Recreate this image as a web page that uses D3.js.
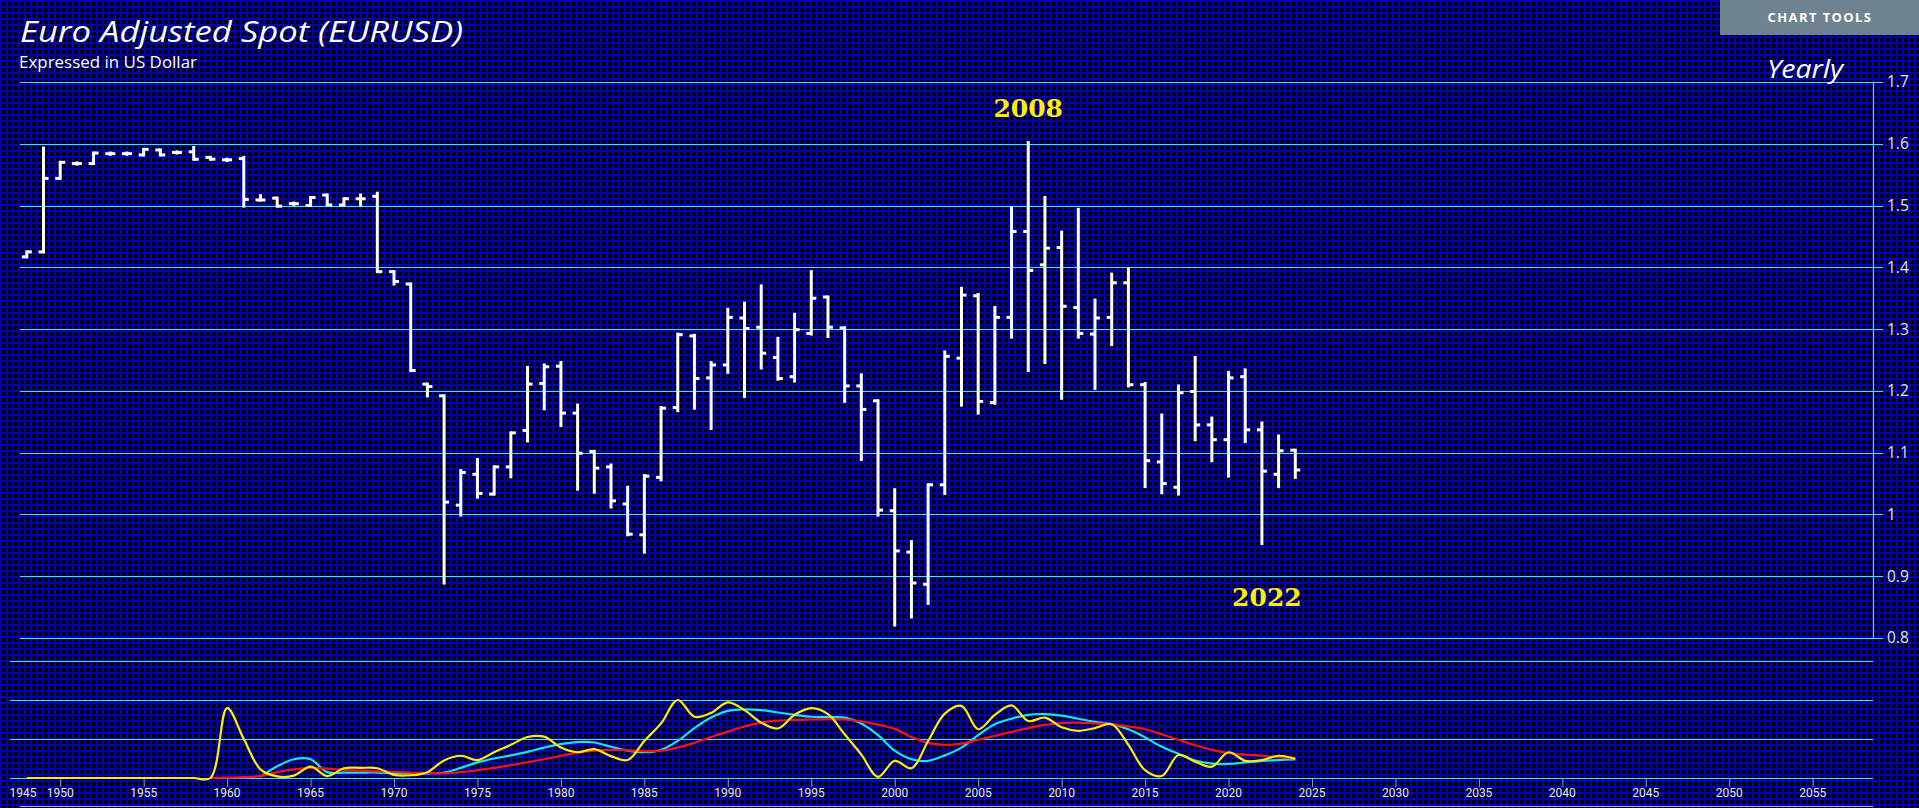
<!DOCTYPE html>
<html>
<head>
<meta charset="utf-8">
<script src="https://cdn.jsdelivr.net/npm/d3@7"></script>
<style>
html,body{margin:0;padding:0;background:#000;overflow:hidden;}
svg{display:block;}
</style>
</head>
<body>
<svg id="chart" width="1919" height="808"></svg>
<script>
// ---------- DATA ----------
const firstYear = 1948;
const openV  = [1.417,1.425,1.544,1.568,1.568,1.584,1.584,1.582,1.590,1.586,1.587,1.578,1.574,1.576,1.509,1.512,1.503,1.500,1.517,1.501,1.511,1.515,1.393,1.373,1.211,1.192,1.015,1.065,1.033,1.077,1.136,1.212,1.240,1.164,1.102,1.077,1.017,0.967,1.060,1.173,1.289,1.221,1.242,1.318,1.303,1.254,1.223,1.293,1.352,1.302,1.208,1.184,1.006,0.939,0.887,1.048,1.253,1.354,1.181,1.319,1.458,1.404,1.432,1.335,1.292,1.319,1.375,1.210,1.085,1.044,1.199,1.145,1.121,1.223,1.137,1.065,1.104];
const highV  = [1.425,1.593,1.570,1.569,1.585,1.585,1.585,1.591,1.590,1.587,1.594,1.578,1.575,1.578,1.516,1.512,1.504,1.513,1.517,1.511,1.517,1.520,1.393,1.373,1.211,1.192,1.071,1.089,1.077,1.132,1.238,1.242,1.246,1.177,1.102,1.080,1.044,1.063,1.173,1.292,1.290,1.246,1.332,1.342,1.370,1.285,1.324,1.393,1.352,1.302,1.226,1.184,1.040,0.956,1.048,1.263,1.366,1.356,1.335,1.496,1.602,1.513,1.457,1.494,1.347,1.389,1.398,1.212,1.161,1.208,1.254,1.156,1.230,1.234,1.148,1.127,1.104];
const lowV   = [1.417,1.425,1.544,1.567,1.568,1.583,1.583,1.582,1.582,1.585,1.575,1.575,1.573,1.499,1.509,1.499,1.502,1.500,1.501,1.501,1.500,1.393,1.373,1.233,1.192,0.889,0.999,1.028,1.033,1.061,1.119,1.171,1.144,1.041,1.036,1.012,0.967,0.939,1.056,1.168,1.172,1.139,1.230,1.191,1.237,1.219,1.216,1.292,1.288,1.183,1.089,0.999,0.821,0.834,0.856,1.034,1.177,1.164,1.180,1.287,1.233,1.246,1.188,1.287,1.204,1.275,1.208,1.045,1.035,1.033,1.121,1.087,1.062,1.118,0.953,1.045,1.060];
const closeV = [1.425,1.544,1.570,1.568,1.585,1.584,1.584,1.591,1.582,1.586,1.575,1.575,1.574,1.510,1.509,1.499,1.503,1.513,1.501,1.511,1.511,1.393,1.377,1.233,1.207,1.020,1.068,1.034,1.077,1.132,1.211,1.239,1.164,1.099,1.075,1.022,0.968,1.062,1.172,1.291,1.220,1.242,1.319,1.301,1.261,1.220,1.299,1.350,1.303,1.208,1.170,1.007,0.941,0.889,1.048,1.256,1.355,1.183,1.319,1.458,1.395,1.431,1.337,1.293,1.318,1.375,1.210,1.087,1.050,1.197,1.145,1.121,1.221,1.137,1.070,1.103,1.072];

// lower indicator panel
const yellowStart = 1948;
const yellowV = [0,0,0,0,0,0,0,0,0,0,0,0,1.79,1.0,0.22,0.04,0.06,0.29,0.05,0.25,0.26,0.25,0.08,0.07,0.15,0.45,0.57,0.46,0.66,0.85,1.05,1.06,0.78,0.66,0.74,0.56,0.46,0.95,1.40,2.0,1.57,1.67,1.94,1.74,1.42,1.27,1.62,1.79,1.64,1.12,0.6,0.03,0.44,0.25,0.95,1.65,1.85,1.25,1.62,1.86,1.46,1.55,1.30,1.21,1.28,1.38,0.85,0.2,0.05,0.59,0.42,0.29,0.66,0.44,0.46,0.57,0.49];
const cyanStart = 1962;
const cyanV = [0.03,0.30,0.48,0.48,0.15,0.14,0.14,0.14,0.13,0.12,0.12,0.14,0.26,0.40,0.50,0.58,0.67,0.78,0.87,0.92,0.91,0.80,0.70,0.66,0.72,0.95,1.28,1.55,1.72,1.76,1.74,1.68,1.62,1.57,1.56,1.55,1.40,1.10,0.70,0.48,0.44,0.58,0.78,1.10,1.38,1.52,1.62,1.64,1.60,1.52,1.44,1.38,1.25,1.04,0.80,0.62,0.45,0.37,0.36,0.40,0.44,0.46,0.48];
const redStart = 1959;
const redV = [0,0.01,0.02,0.05,0.15,0.22,0.26,0.24,0.21,0.19,0.17,0.16,0.14,0.13,0.12,0.15,0.20,0.26,0.33,0.40,0.48,0.57,0.65,0.70,0.72,0.71,0.69,0.70,0.78,0.90,1.05,1.19,1.32,1.42,1.47,1.49,1.50,1.51,1.50,1.45,1.37,1.26,1.05,0.90,0.85,0.88,0.98,1.08,1.18,1.28,1.36,1.41,1.42,1.40,1.38,1.32,1.25,1.12,0.98,0.84,0.72,0.64,0.60,0.57,0.53,0.50];

const priceTicks = [0.8,0.9,1.0,1.1,1.2,1.3,1.4,1.5,1.6,1.7];
const yearTicks = [1945,1950,1955,1960,1965,1970,1975,1980,1985,1990,1995,2000,2005,2010,2015,2020,2025,2030,2035,2040,2045,2050,2055];
const indTicks = [0,1,2,3];
const annotations = [{label:"2008", year:2008, value:1.643},{label:"2022", year:2022.3, value:0.851}];

// ---------- BUILD ----------
const svg = d3.select("#chart");
const W = 1919, H = 808;
const uiFont = "'Open Sans', Lato, sans-serif";

const bars = openV.map((o,i)=>({year:firstYear+i, o, h:highV[i], l:lowV[i], c:closeV[i]}));
const series = (start, arr) => arr.map((v,i)=>({year:start+i, v}));

const x = d3.scaleLinear().domain([1950, 2055]).range([60.2, 1812.7]);
const y = d3.scaleLinear().domain([0.8, 1.7]).range([638, 82]);
const yi = d3.scaleLinear().domain([0, 3]).range([778, 661]);

// background grid pattern
const defs = svg.append("defs");
const pat = defs.append("pattern").attr("id","grid").attr("patternUnits","userSpaceOnUse")
  .attr("width",6).attr("height",6).attr("x",0).attr("y",0);
pat.append("rect").attr("width",6).attr("height",6).attr("fill","#0000b4");
pat.append("rect").attr("x",2).attr("y",2).attr("width",4).attr("height",4).attr("fill","#000");
svg.append("rect").attr("width",W).attr("height",H).attr("fill","url(#grid)");

// price gridlines
const gridColor = "#3ee6f2";
svg.append("g").selectAll("line").data(priceTicks).join("line")
  .attr("x1",20).attr("x2",1883)
  .attr("y1",d=>Math.round(y(d))+0.5).attr("y2",d=>Math.round(y(d))+0.5)
  .attr("stroke",gridColor).attr("stroke-width",1.2);

// right axis
const yAxis = d3.axisRight(y).tickValues(priceTicks).tickSize(0).tickPadding(0)
  .tickFormat(d=>d3.format("~g")(d));
const ga = svg.append("g").attr("transform","translate(1873,0)").call(yAxis);
ga.select(".domain").attr("stroke",gridColor).attr("stroke-width",1.2);
ga.selectAll("text").attr("x",14).attr("fill","#e6e6e6")
  .style("font-family",uiFont).style("font-size","15.5px");

// OHLC bars
const tk = 5;
const gb = svg.append("g").attr("stroke","#fff").attr("stroke-width",3).attr("stroke-linecap","butt");
const bg = gb.selectAll("g").data(bars).join("g");
bg.append("line").attr("x1",d=>x(d.year)).attr("x2",d=>x(d.year))
  .attr("y1",d=>y(d.h)-1.5).attr("y2",d=>y(d.l)+1.5);
bg.append("line").attr("x1",d=>x(d.year)-tk).attr("x2",d=>x(d.year))
  .attr("y1",d=>y(d.o)).attr("y2",d=>y(d.o));
bg.append("line").attr("x1",d=>x(d.year)).attr("x2",d=>x(d.year)+tk)
  .attr("y1",d=>y(d.c)).attr("y2",d=>y(d.c));

// annotations
svg.append("g").selectAll("text").data(annotations).join("text")
  .attr("x",d=>x(d.year)).attr("y",d=>y(d.value))
  .attr("text-anchor","middle")
  .attr("fill","#ffee00")
  .style("font-family","'DejaVu Serif', serif").style("font-weight","bold").style("font-size","25px")
  .style("font-variant-numeric","oldstyle-nums")
  .text(d=>d.label);

// indicator gridlines
svg.append("g").selectAll("line").data(indTicks).join("line")
  .attr("x1",10).attr("x2",1873)
  .attr("y1",d=>Math.round(yi(d))+0.5).attr("y2",d=>Math.round(yi(d))+0.5)
  .attr("stroke",gridColor).attr("stroke-width",1.2);

// indicator lines
const line = d3.line().x(d=>x(d.year)).y(d=>yi(d.v)).curve(d3.curveCatmullRom.alpha(0.5));
const ig = svg.append("g").attr("fill","none").attr("stroke-width",2.2).attr("stroke-linejoin","round");
ig.append("path").datum(series(cyanStart,cyanV)).attr("d",line).attr("stroke","#12e8ee");
ig.append("path").datum(series(redStart,redV)).attr("d",line).attr("stroke","#ff1010");
ig.append("path").datum(series(yellowStart,yellowV)).attr("d",line).attr("stroke","#ffee00");

// bottom axis
const xTickVals = yearTicks.filter(t=>x(t)>=20);
const gx = svg.append("g").attr("transform","translate(0,779)");
gx.selectAll("line").data(xTickVals).join("line")
  .attr("x1",d=>x(d)+0.5).attr("x2",d=>x(d)+0.5).attr("y1",0).attr("y2",8)
  .attr("stroke","#9a9a9a").attr("stroke-width",1);
gx.selectAll("text").data(yearTicks).join("text")
  .attr("x",d=>Math.max(x(d),23)).attr("y",18).attr("text-anchor","middle")
  .attr("fill","#e8e8e8")
  .style("font-family","'Liberation Sans Narrow','Roboto',sans-serif").style("font-size","12px")
  .text(d=>d);

// navigator line at very bottom
svg.append("line").attr("x1",20).attr("x2",1873).attr("y1",806.5).attr("y2",806.5)
  .attr("stroke","#b0b0b0").attr("stroke-width",1);

// titles
svg.append("text").attr("x",20).attr("y",42).attr("fill","#fff")
  .attr("textLength",443).attr("lengthAdjust","spacingAndGlyphs")
  .style("font-family",uiFont).style("font-style","italic").style("font-weight","400")
  .style("font-size","30px").text("Euro Adjusted Spot (EURUSD)");
svg.append("text").attr("x",19).attr("y",68).attr("fill","#fff")
  .attr("textLength",178).attr("lengthAdjust","spacingAndGlyphs")
  .style("font-family",uiFont).style("font-size","15.5px")
  .text("Expressed in US Dollar");
svg.append("text").attr("x",1767).attr("y",78).attr("fill","#fff")
  .attr("textLength",76).attr("lengthAdjust","spacingAndGlyphs")
  .style("font-family",uiFont).style("font-style","italic")
  .style("font-size","26px").text("Yearly");

// chart tools button
svg.append("rect").attr("x",1720).attr("y",0).attr("width",199).attr("height",35).attr("fill","#6f8290");
svg.append("text").attr("x",1820).attr("y",22).attr("text-anchor","middle").attr("fill","#fff")
  .style("font-family",uiFont).style("font-weight","bold")
  .style("font-size","13px").style("letter-spacing","1.4px").text("CHART TOOLS");
</script>
</body>
</html>
